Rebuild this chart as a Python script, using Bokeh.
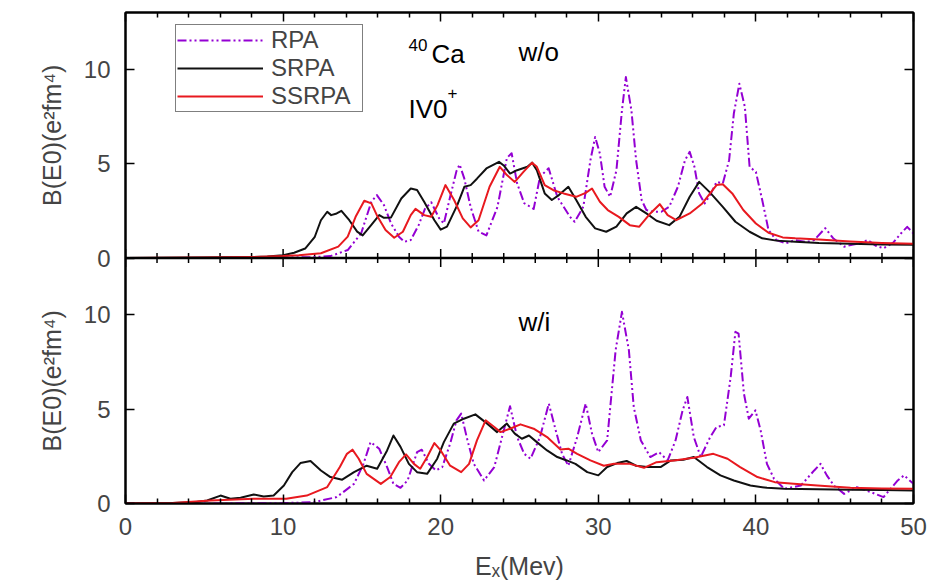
import math
from bokeh.plotting import figure
from bokeh.models import (Range1d, LinearAxis, FixedTicker, Span, Label,
                          Legend, LegendItem)
from bokeh.embed import file_html
from bokeh.resources import INLINE

# ---------------- data ----------------
x_major = [0, 10, 20, 30, 40, 50]
x_minor = [2, 4, 6, 8, 12, 14, 16, 18, 22, 24, 26, 28, 32, 34, 36, 38, 42, 44, 46, 48]
y_ticks = [0, 5, 10]
y_max = 13

# top panel (w/o)
rpa_top_e = [0, 5, 10, 12, 13, 14.1, 14.95, 15.6, 15.95, 16.4, 16.85, 17.35, 17.7, 18.1, 18.6,
             19.0, 19.4, 19.9, 20.2, 20.6, 21.0, 21.2, 21.5, 21.9, 22.4, 22.9, 23.6, 24.2, 24.5,
             24.85, 25.3, 25.9, 26.3, 26.85, 27.4, 27.8, 28.2, 28.5, 29.05, 29.5, 29.8, 30.1,
             30.4, 30.75, 31.15, 31.5, 31.75, 32.1, 32.4, 32.75, 33.05, 33.5, 34.0, 34.5, 35.05,
             35.5, 35.8, 36.1, 36.4, 36.75, 37.15, 37.5, 37.9, 38.3, 38.6, 38.95, 39.3, 39.6,
             40.0, 40.4, 40.8, 41.3, 41.9, 42.5, 43.2, 43.7, 44.4, 44.9, 45.6, 46.1, 46.6, 47.1,
             47.6, 48.1, 48.7, 49.2, 49.6, 50]
rpa_top_b = [0, 0, 0.02, 0.05, 0.1, 0.42, 1.3, 2.98, 3.33, 2.8, 1.83, 1.13, 0.86, 0.95, 1.74,
             2.6, 2.95, 2.1, 1.83, 3.24, 4.6, 4.95, 4.2, 2.7, 1.4, 1.2, 2.7, 5.3, 5.55,
             3.95, 2.9, 2.6, 4.3, 4.75, 3.24, 2.71, 2.18, 1.92, 2.71, 5.18, 6.41, 5.53,
             3.77, 3.24, 4.65, 7.82, 9.58, 7.82, 5.18, 3.07, 2.54, 2.45, 2.45, 2.71, 3.77,
             5.18, 5.62, 4.83, 3.42, 2.89, 3.42, 4.03, 3.95, 5.18, 7.65, 9.23, 8.0, 4.83,
             4.56, 3.07, 1.48, 0.95, 0.78, 0.95, 0.85, 0.95, 1.58, 1.05, 0.6, 0.7, 0.78, 0.95,
             0.65, 0.51, 0.8, 1.3, 1.65, 1.3]

srpa_top_e = [0, 5, 8, 9, 10, 10.7, 11.4, 12, 12.4, 12.8, 13.05, 13.4, 13.7, 14.2, 14.7, 15.05,
              15.6, 16.1, 16.4, 16.85, 17.5, 18.1, 18.5, 18.95, 19.6, 20.0, 20.4, 21.05, 21.5,
              21.9, 22.3, 22.9, 23.7, 24.0, 24.4, 24.85, 25.5, 25.8, 26.1, 26.6, 27.05, 27.5,
              28.1, 28.6, 29.2, 29.8, 30.5, 31.15, 31.8, 32.4, 33.05, 33.7, 34.5, 35.15, 35.8,
              36.4, 37.05, 37.9, 38.7, 39.6, 40.4, 41.3, 42.5, 44, 46, 48, 50]
srpa_top_b = [0, 0.02, 0.05, 0.08, 0.15, 0.28, 0.5, 1.1, 2.0, 2.45, 2.27, 2.36, 2.5, 2.0, 1.4, 1.2,
              1.75, 2.27, 2.13, 2.15, 3.15, 3.68, 3.6, 2.98, 2.0, 1.5, 1.66, 2.8, 3.77,
              3.86, 4.2, 4.74, 5.09, 4.9, 4.47, 4.65, 4.83, 5.05, 4.65, 3.42, 3.07, 3.33,
              3.77, 3.07, 2.18, 1.57, 1.39, 1.66, 2.36, 2.71, 2.36, 1.97, 1.74, 2.18, 3.24,
              4.03, 3.5, 2.71, 1.92, 1.39, 1.04, 0.92, 0.86, 0.8, 0.76, 0.72, 0.7]

ssrpa_top_e = [0, 5, 8, 10, 11, 12.4, 13.5, 14.1, 14.6, 15.15, 15.6, 16.0, 16.5, 17.05, 17.6,
               18.1, 18.4, 18.95, 19.4, 19.8, 20.3, 20.85, 21.4, 21.9, 22.4, 23.1, 23.75, 24.2,
               24.7, 25.25, 25.8, 26.1, 26.6, 27.15, 27.8, 28.6, 29.2, 29.6, 30.1, 30.6, 31.3,
               32.0, 32.6, 33.3, 33.9, 34.4, 34.95, 35.8, 36.6, 37.5, 37.9, 38.5, 39.2, 40.0,
               40.8, 41.7, 42.5, 44, 46, 48, 50]
ssrpa_top_b = [0, 0.02, 0.05, 0.1, 0.15, 0.25, 0.6, 1.13, 2.18, 3.03, 2.89, 2.18, 1.48, 1.07, 1.39,
               2.27, 2.6, 2.27, 2.18, 2.8, 3.86, 3.07, 2.1, 1.62, 2.0, 3.77, 4.83, 4.39,
               4.03, 4.56, 5.05, 4.83, 3.86, 3.59, 3.42, 3.24, 3.45, 3.68, 2.98, 2.54, 2.18,
               1.74, 1.66, 2.36, 2.85, 2.27, 2.0, 2.36, 2.89, 3.86, 3.91, 3.42, 2.54, 1.83,
               1.34, 1.09, 1.04, 0.98, 0.88, 0.8, 0.75]

# bottom panel (w/i)
rpa_bot_e = [0, 5, 10, 11.95, 13.4, 14.5, 15.1, 15.55, 16.1, 16.6, 17.0, 17.45, 17.9, 18.5, 18.8,
             19.25, 19.7, 20.1, 20.6, 21.0, 21.3, 21.7, 22.1, 22.75, 23.4, 24.0, 24.4, 24.85,
             25.3, 25.7, 26.3, 26.86, 27.3, 27.7, 28.1, 28.66, 29.2, 29.6, 30.0, 30.56, 31.1,
             31.5, 31.94, 32.25, 32.7, 33.3, 33.85, 34.4, 34.9, 35.35, 35.65, 36.06, 36.5, 37.1,
             37.5, 37.97, 38.4, 38.7, 38.9, 39.24, 39.55, 39.97, 40.3, 40.7, 41.15, 41.8, 42.85,
             43.7, 44.1, 44.5, 44.95, 45.6, 46.4, 47.3, 48.1, 49.0, 49.4, 50]
rpa_bot_b = [0, 0, 0.02, 0.07, 0.34, 1.04, 2.1, 3.25, 2.9, 1.93, 1.04, 0.83, 1.22, 2.72, 2.85,
             2.1, 1.75, 1.93, 3.17, 4.4, 4.76, 3.34, 2.1, 1.22, 1.93, 3.87, 5.15, 3.52,
             2.63, 2.37, 3.52, 5.29, 3.87, 2.63, 2.0, 3.52, 5.29, 3.7, 2.72, 3.34, 8.12,
             10.15, 8.12, 5.11, 3.34, 2.46, 2.72, 2.28, 3.34, 4.93, 5.64, 3.52, 2.46, 3.52,
             4.05, 4.14, 6.7, 9.09, 9.0, 5.82, 4.49, 4.93, 3.87, 2.1, 1.31, 0.78, 0.95,
             1.75, 2.1, 1.49, 0.95, 0.51, 0.87, 0.6, 0.34, 1.22, 1.49, 1.04]

srpa_bot_e = [0, 3, 4.5, 5.18, 6.03, 6.66, 7.3, 8.14, 8.77, 9.4, 10.05, 10.58, 11.1, 11.74, 12.4,
              13.0, 13.75, 14.5, 15.3, 15.97, 16.6, 17.0, 17.45, 17.98, 18.5, 19.14, 19.78, 20.2,
              20.83, 21.47, 22.2, 22.95, 23.58, 24.2, 24.7, 25.15, 25.6, 26.1, 26.75, 27.4, 28.0,
              28.55, 29.3, 30.0, 30.56, 31.2, 31.8, 32.4, 33.1, 33.95, 34.6, 35.4, 36.06, 36.9,
              37.75, 38.6, 39.65, 40.7, 41.8, 43.9, 46, 48, 50]
srpa_bot_b = [0, 0.02, 0.08, 0.16, 0.42, 0.25, 0.3, 0.48, 0.37, 0.42, 0.95, 1.66, 2.14, 2.25, 1.75,
              1.4, 1.26, 1.66, 2.0, 1.84, 2.81, 3.6, 3.0, 2.1, 1.66, 1.57, 2.37, 3.25,
              4.23, 4.49, 4.72, 4.23, 3.78, 4.23, 3.7, 3.43, 3.6, 3.25, 2.81, 2.46, 2.28,
              2.1, 1.66, 1.49, 1.93, 2.14, 2.25, 2.0, 1.93, 1.93, 2.28, 2.32, 2.46, 1.93,
              1.49, 1.22, 0.95, 0.83, 0.78, 0.76, 0.73, 0.71, 0.69]

ssrpa_bot_e = [0, 3, 5.4, 8.14, 10.2, 11.5, 12.8, 13.6, 14.05, 14.4, 14.8, 15.3, 16.2, 16.8, 17.35,
               17.8, 18.3, 18.7, 19.14, 19.6, 20.0, 20.6, 21.3, 21.8, 22.3, 22.85, 23.4, 23.8,
               24.4, 25.06, 25.9, 26.75, 27.6, 28.1, 28.66, 29.5, 30.35, 31.0, 32.0, 32.9, 33.7,
               34.8, 36.06, 37.3, 38.2, 39.0, 40.1, 41.2, 42.4, 43.9, 46.0, 48, 50]
ssrpa_bot_b = [0, 0.03, 0.16, 0.25, 0.25, 0.42, 0.87, 1.93, 2.63, 2.85, 2.37, 1.57, 1.04, 1.4, 2.19,
               2.6, 2.1, 1.84, 2.46, 3.2, 2.81, 2.0, 1.66, 2.1, 3.34, 4.4, 4.05, 3.78,
               3.96, 4.19, 3.96, 3.52, 2.86, 2.9, 2.63, 2.28, 2.0, 2.1, 2.1, 1.89, 2.19,
               2.28, 2.42, 2.63, 2.37, 1.93, 1.4, 1.13, 1.04, 0.95, 0.83, 0.8, 0.78]

series_names = ["RPA", "SRPA", "SSRPA"]
y_title = "B(E0)(e\u00b2fm\u2074)"
x_title = "E\u2093(Mev)"

# ---------------- styling ----------------
FONT = "Liberation Sans"
C_RPA = "#9400d3"
C_SRPA = "#111111"
C_SSRPA = "#e8191f"
DASH_RPA = "9 3 2 3 2 3"

p = figure(frame_width=788, frame_height=491,
           x_range=Range1d(0, 50), y_range=Range1d(-y_max, y_max),
           x_axis_type=None, y_axis_type=None,
           min_border_left=125, min_border_right=20, min_border_top=12, min_border_bottom=84,
           output_backend="svg", toolbar_location=None)
p.extra_y_ranges = {"bot": Range1d(0, 2 * y_max)}
p.outline_line_color = "black"
p.outline_line_width = 2
p.background_fill_color = "white"
p.border_fill_color = "white"


def style_axis(ax, ticks, show_labels):
    ax.axis_line_width = 2
    ax.major_tick_in = 9
    ax.major_tick_out = 0
    ax.minor_tick_in = 5
    ax.minor_tick_out = 0
    ax.major_tick_line_width = 1.5
    ax.minor_tick_line_width = 1.5
    ax.major_label_text_font = FONT
    if show_labels:
        ax.major_label_text_font_size = "24px"
        ax.major_label_standoff = 14
    else:
        ax.major_label_overrides = {t: "" for t in ticks}
        ax.major_label_text_font_size = "6px"
        ax.major_label_standoff = 0


xt = FixedTicker(ticks=x_major, minor_ticks=x_minor)
ax_b = LinearAxis(ticker=xt, axis_label=x_title, axis_label_standoff=14,
                  axis_label_text_font=FONT, axis_label_text_font_size="25px",
                  axis_label_text_font_style="normal")
style_axis(ax_b, x_major, True)
p.add_layout(ax_b, "below")
ax_t = LinearAxis(ticker=xt)
style_axis(ax_t, x_major, False)
p.add_layout(ax_t, "above")

# left/right axes: ticks for both panels on the main range
left_ticks = [v - y_max for v in y_ticks] + y_ticks
overrides = {v - y_max: str(v) for v in y_ticks}
overrides.update({v: str(v) for v in y_ticks})
yt = FixedTicker(ticks=left_ticks, minor_ticks=[])
gap = "\u00a0" * 15   # one title per panel, centred on each panel
ax_l = LinearAxis(ticker=yt, axis_label=y_title + gap + y_title, axis_label_standoff=15,
                  axis_label_text_font=FONT, axis_label_text_font_size="25px",
                  axis_label_text_font_style="normal")
style_axis(ax_l, left_ticks, True)
ax_l.major_label_overrides = overrides
ax_l.major_label_standoff = 15
p.add_layout(ax_l, "left")
ax_r = LinearAxis(ticker=yt)
style_axis(ax_r, left_ticks, False)
p.add_layout(ax_r, "right")

# separator between the panels, with ticks on both sides
p.add_layout(Span(location=0, dimension="width", line_color="black", line_width=2.5))
p.scatter(x=x_major, y=[0] * len(x_major), marker="dash", angle=math.pi / 2, size=18,
          line_color="black", line_width=1.5)
p.scatter(x=x_minor, y=[0] * len(x_minor), marker="dash", angle=math.pi / 2, size=10,
          line_color="black", line_width=1.5)

# curves
kw = dict(line_width=2, line_join="round")
r1 = p.line(rpa_top_e, rpa_top_b, line_color=C_RPA, line_dash=DASH_RPA, **kw)
r2 = p.line(srpa_top_e, srpa_top_b, line_color=C_SRPA, **kw)
r3 = p.line(ssrpa_top_e, ssrpa_top_b, line_color=C_SSRPA, **kw)
p.line(rpa_bot_e, rpa_bot_b, line_color=C_RPA, line_dash=DASH_RPA, y_range_name="bot", **kw)
p.line(srpa_bot_e, srpa_bot_b, line_color=C_SRPA, y_range_name="bot", **kw)
p.line(ssrpa_bot_e, ssrpa_bot_b, line_color=C_SSRPA, y_range_name="bot", **kw)

legend = Legend(items=[LegendItem(label=series_names[0], renderers=[r1]),
                       LegendItem(label=series_names[1], renderers=[r2]),
                       LegendItem(label=series_names[2], renderers=[r3])],
                location=(50, 391), orientation="vertical",
                label_text_font=FONT, label_text_font_size="24px",
                label_text_line_height=1.0,
                glyph_width=86, glyph_height=22, label_height=22, label_width=90,
                label_standoff=8, padding=1, spacing=-3, margin=0,
                border_line_color="black", border_line_width=1.5,
                background_fill_color="white", background_fill_alpha=1)
p.add_layout(legend)


def lab(x, y, text, size, rng="default", **kw):
    p.add_layout(Label(x=x, y=y, text=text, text_font=FONT, text_font_size=size,
                       text_baseline="alphabetic", text_color="black",
                       y_range_name=rng, **kw))


# panel annotations
lab(17.96, 11.3, "40", "17px")
lab(19.42, 10.82, "Ca", "26px")
lab(24.94, 10.92, "w/o", "26px")
lab(17.96, 7.9, "IV0", "26px")
lab(20.43, 8.75, "+", "17px")
lab(24.94, 9.6, "w/i", "26px", rng="bot")

open("out.html", "w").write(file_html(p, INLINE))
